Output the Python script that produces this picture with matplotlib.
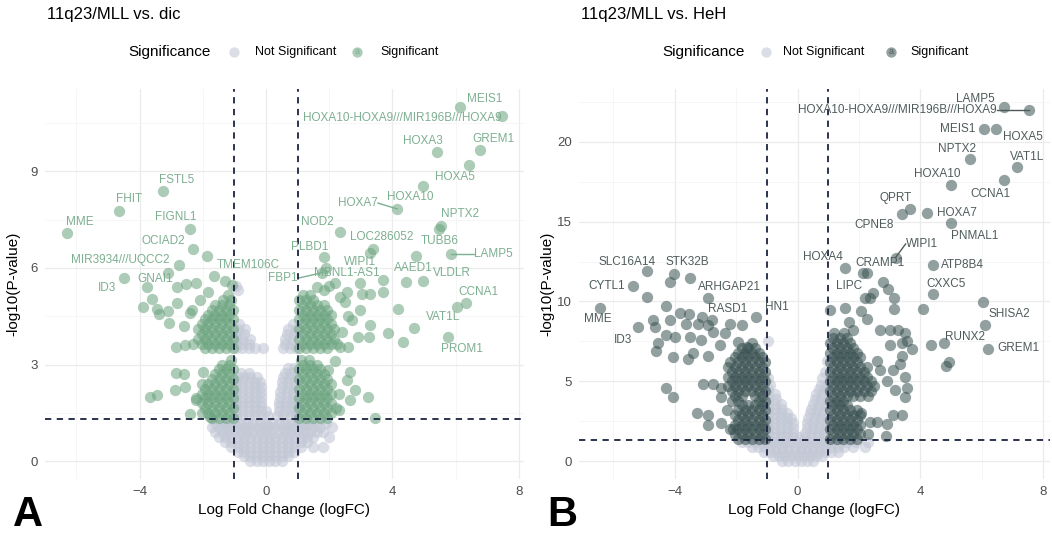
import matplotlib.pyplot as plt

plt.rcParams['font.family'] = ['Liberation Sans', 'DejaVu Sans']

W, H = 1052, 534

# ---------------- panel A : 11q23/MLL vs. dic ----------------
# not significant cloud: (-log10 p, [logFC values]) rows
a_ns_rows = [
    (0.0, [-0.5, -0.3, -0.1, 0.1, 0.3, 0.5]),
    (0.15, [-0.7, -0.5, -0.3, -0.1, 0.1, 0.3, 0.5, 0.7]),
    (0.3, [-0.9, -0.7, -0.5, -0.3, -0.1, 0.1, 0.3, 0.5, 0.7, 0.9]),
    (0.45, [-1.1, -0.9, -0.7, -0.5, -0.3, -0.1, 0.1, 0.3, 0.5, 0.7, 0.9, 1.1, 1.5, 1.8]),
    (0.6, [-1.3, -1.1, -0.9, -0.7, -0.5, -0.3, -0.1, 0.1, 0.3, 0.5, 0.7, 0.9, 1.1, 1.3]),
    (0.75, [-1.5, -1.3, -1.1, -0.9, -0.7, -0.5, -0.3, -0.1, 0.1, 0.3, 0.5, 0.7, 0.9, 1.1,
            1.3, 1.5, 2.0]),
    (0.9, [-1.6, -1.4, -1.2, -1.0, -0.8, -0.6, -0.4, -0.2, 0.0, 0.2, 0.4, 0.6, 0.8, 1.0,
           1.2, 1.4, 1.6, 1.8]),
    (1.05, [-1.7, -1.5, -1.3, -1.1, -0.9, -0.7, -0.5, -0.3, -0.1, 0.1, 0.3, 0.5, 0.7, 0.9,
            1.1, 1.3, 1.5, 1.7, 2.1]),
    (1.2, [-1.6, -1.4, -1.2, -1.0, -0.8, -0.6, -0.4, -0.2, 0.0, 0.2, 0.4, 0.6, 0.8, 1.0,
           1.2, 1.4, 1.6, 1.9]),
    (1.4, [-0.95, -0.75, -0.55, -0.35, -0.15, 0.05, 0.35, 0.55, 0.75, 0.95]),
    (1.55, [-0.95, -0.75, -0.55, -0.35, -0.15, 0.0, 0.4, 0.6, 0.8, 0.95]),
    (1.7, [-0.95, -0.75, -0.55, -0.35, -0.15, 0.4, 0.6, 0.8, 0.95]),
    (1.85, [-0.95, -0.75, -0.55, -0.35, -0.15, 0.42, 0.62, 0.82, 0.95]),
    (2.0, [-0.95, -0.75, -0.55, -0.35, -0.15, 0.45, 0.65, 0.85]),
    (2.15, [-0.95, -0.75, -0.55, -0.35, -0.15, 0.45, 0.65, 0.85]),
    (2.3, [-0.95, -0.75, -0.55, -0.35, -0.15, 0.5, 0.7, 0.9]),
    (2.45, [-0.95, -0.75, -0.55, -0.35, -0.2, 0.5, 0.7, 0.9]),
    (2.6, [-0.9, -0.7, -0.5, -0.3, 0.55, 0.75, 0.95]),
    (2.75, [-0.8, -0.55, 0.6, 0.8]),
    (2.9, [0.7, 0.9]),
    (3.5, [-0.95, -0.75, -0.55, -0.35, -0.1, 0.55, 0.75, 0.95]),
    (3.65, [-0.95, -0.75, -0.55, 0.6, 0.8]),
    (3.8, [-0.95, -0.75, -0.5, 0.6, 0.85]),
    (3.95, [-0.95, -0.7, 0.65, 0.9]),
    (4.1, [-0.9, -0.65, 0.7, 0.95]),
    (4.25, [-0.85, 0.85]),
    (5.3, [-0.9]),
    (5.45, [-0.95]),
]
# significant, dense blocks either side of |logFC| = 1
a_sig_rows = [
    (1.35, [-1.05, -1.27, -1.49, -1.71, 1.05, 1.27, 1.49, 1.71, 1.93]),
    (1.5, [-1.16, -1.38, -1.6, -1.82, -2.04, 1.16, 1.38, 1.6, 1.82, 2.04]),
    (1.65, [-1.05, -1.27, -1.49, -1.71, -1.93, 1.05, 1.27, 1.49, 1.71, 1.93, 2.2]),
    (1.8, [-1.16, -1.38, -1.6, -1.82, -2.04, 1.16, 1.38, 1.6, 1.82, 2.04]),
    (1.95, [-1.05, -1.27, -1.49, -1.71, -1.93, -2.2, 1.05, 1.27, 1.49, 1.71, 1.93]),
    (2.1, [-1.16, -1.38, -1.6, -1.82, -2.04, 1.16, 1.38, 1.6, 1.82, 2.04, 2.3]),
    (2.25, [-1.05, -1.27, -1.49, -1.71, -1.93, 1.05, 1.27, 1.49, 1.71, 1.93]),
    (2.4, [-1.16, -1.38, -1.6, -1.82, -2.04, 1.16, 1.38, 1.6, 1.82, 2.04]),
    (2.55, [-1.05, -1.27, -1.49, -1.71, 1.05, 1.27, 1.49, 1.71, 1.93]),
    (2.7, [-1.16, -1.38, -1.6, 1.16, 1.38, 1.6, 1.82]),
    (2.85, [-1.05, -1.27, -1.49, 1.05, 1.27, 1.49, 1.71]),
    (3.0, [-1.16, -1.38, 1.16, 1.38, 1.6]),
    (3.15, [-1.1, 1.1, 1.35]),
    (3.5, [-1.05, -1.27, -1.49, -1.71, -1.93, 1.05, 1.27, 1.49, 1.71, 1.93]),
    (3.65, [-1.16, -1.38, -1.6, -1.82, -2.04, -2.3, 1.16, 1.38, 1.6, 1.82, 2.04, 2.26]),
    (3.8, [-1.05, -1.27, -1.49, -1.71, -1.93, -2.15, 1.05, 1.27, 1.49, 1.71, 1.93, 2.15]),
    (3.95, [-1.16, -1.38, -1.6, -1.82, -2.04, 1.16, 1.38, 1.6, 1.82, 2.04]),
    (4.1, [-1.05, -1.27, -1.49, -1.71, -1.93, -2.15, 1.05, 1.27, 1.49, 1.71, 1.93, 2.15]),
    (4.25, [-1.16, -1.38, -1.6, -1.82, -2.04, 1.16, 1.38, 1.6, 1.82, 2.04]),
    (4.4, [-1.05, -1.27, -1.49, -1.71, -1.93, 1.05, 1.27, 1.49, 1.71, 1.93]),
    (4.55, [-1.16, -1.38, -1.6, -1.82, 1.16, 1.38, 1.6, 1.82, 2.04]),
    (4.7, [-1.05, -1.27, -1.49, -1.71, 1.05, 1.27, 1.49, 1.71, 1.93]),
    (4.85, [-1.16, -1.38, -1.6, 1.16, 1.38, 1.6, 1.82]),
    (5.0, [-1.1, -1.35, 1.05, 1.27, 1.49]),
    (5.15, [-1.2, 1.16, 1.38]),
]
# significant, scattered (unlabelled)
a_sig_x = [-3.9, -3.45, -3.4, -3.1, -3.07, -3.6, -3.77, -2.82, -2.53, -2.22, -1.87, -1.3,
           -1.08, -2.82, -2.35, -1.83, -2.85, -2.56, -3.67, -3.45, -2.85, -2.6, -2.0, -2.4,
           -2.88, -2.56, -1.77, -2.2, -2.4, -2.6, -2.1,
           3.7, 3.29, 2.97, 3.04, 2.97, 2.72, 3.29, 2.91, 2.6, 2.34, 2.18, 2.56, 2.34, 2.5,
           4.18, 4.68, 4.34, 3.86, 3.7, 3.27, 4.43, 2.4, 2.6, 1.85, 2.0, 1.6,
           2.18, 2.66, 2.82, 3.23, 2.66, 3.45, 1.96, 2.56, 2.3]
a_sig_y = [4.78, 4.72, 4.56, 4.66, 4.3, 5.05, 5.4, 5.4, 5.5, 5.53, 6.37, 5.6,
           5.47, 4.9, 4.7, 5.25, 3.54, 3.6, 2.0, 2.05, 2.73, 2.7, 2.76, 1.46,
           2.2, 2.3, 1.37, 1.9, 4.6, 4.2, 5.0,
           5.62, 5.2, 5.53, 5.2, 4.69, 4.38, 4.22, 3.85, 3.54, 3.54, 5.53, 5.25, 5.1, 4.94,
           4.72, 4.13, 3.7, 3.97, 5.25, 3.85, 5.56, 4.0, 4.5, 5.3, 5.45, 5.4,
           3.1, 2.76, 2.2, 2.0, 1.9, 1.33, 2.83, 2.52, 1.6]
# labelled genes: point, label position
a_genes = ['MME', 'FHIT', 'FSTL5', 'FIGNL1', 'OCIAD2', 'MIR3934///UQCC2', 'GNAI1', 'ID3',
           'TMEM106C', 'MEIS1', 'HOXA10-HOXA9///MIR196B///HOXA9', 'HOXA3', 'GREM1', 'HOXA5',
           'HOXA10', 'HOXA7', 'NPTX2', 'TUBB6', 'LAMP5', 'NOD2', 'LOC286052', 'WIPI1',
           'PLBD1', 'AAED1', 'VLDLR', 'MBNL1-AS1', 'FBP1', 'CCNA1', 'VAT1L', 'PROM1']
a_gx = [-6.3, -4.65, -3.26, -2.4, -2.3, -2.75, -3.1, -4.5, -1.65, 6.14, 7.47, 5.41, 6.77,
        6.42, 4.97, 4.15, 5.55, 5.47, 5.85, 2.34, 3.38, 3.3, 1.84, 4.75, 4.97, 1.9, 1.77,
        6.33, 6.04, 5.76]
a_gy = [7.08, 7.76, 8.38, 7.2, 6.6, 6.1, 5.85, 5.7, 5.75, 11.0, 10.7, 9.6, 9.66, 9.19, 8.54,
        7.83, 7.3, 7.2, 6.43, 7.1, 6.6, 6.45, 6.33, 6.37, 5.6, 6.0, 5.85, 4.9, 4.8, 3.85]
a_lx = [-5.89, -4.34, -2.82, -2.85, -3.26, -4.62, -3.5, -5.03, -0.57, 6.93, 4.3, 4.97, 7.18,
        5.98, 4.56, 2.91, 6.14, 5.5, 7.18, 1.61, 3.67, 2.97, 1.39, 4.65, 5.89, 2.56, 0.54,
        6.71, 5.6, 6.2]
a_ly = [7.42, 8.14, 8.73, 7.58, 6.83, 6.24, 5.65, 5.37, 6.08, 11.24, 10.65, 9.94, 10.0, 8.82,
        8.2, 8.01, 7.67, 6.83, 6.43, 7.42, 6.96, 6.18, 6.65, 6.0, 5.84, 5.84, 5.68, 5.25, 4.47,
        3.48]
a_lines = ['HOXA7', 'LAMP5', 'FBP1']

# ---------------- panel B : 11q23/MLL vs. HeH ----------------
b_ns_rows = [
    (0.0, [-0.5, -0.3, -0.1, 0.1, 0.3, 0.5]),
    (0.3, [-0.8, -0.6, -0.4, -0.2, 0.0, 0.2, 0.4, 0.6, 0.8]),
    (0.6, [-1.1, -0.9, -0.7, -0.5, -0.3, -0.1, 0.1, 0.3, 0.5, 0.7, 0.9, 1.1, 1.3]),
    (0.9, [-1.5, -1.3, -1.1, -0.9, -0.7, -0.5, -0.3, -0.1, 0.1, 0.3, 0.5, 0.7, 0.9, 1.1,
           1.3, 1.5, 1.8, 2.2]),
    (1.2, [-1.8, -1.6, -1.4, -1.2, -1.0, -0.8, -0.6, -0.4, -0.2, 0.0, 0.2, 0.4, 0.6, 0.8,
           1.0, 1.2, 1.4, 1.6, 1.9, 2.3]),
    (1.5, [-0.95, -0.75, -0.55, -0.35, -0.15, 0.05, 0.25, 0.45, 0.65, 0.85]),
    (1.8, [-0.95, -0.75, -0.55, -0.35, -0.15, 0.25, 0.45, 0.65, 0.85]),
    (2.1, [-0.95, -0.75, -0.55, -0.35, -0.15, 0.3, 0.5, 0.7, 0.9]),
    (2.4, [-0.95, -0.75, -0.55, -0.35, -0.15, 0.3, 0.5, 0.7, 0.9]),
    (2.7, [-0.95, -0.75, -0.55, -0.35, -0.2, 0.35, 0.55, 0.75, 0.95]),
    (3.0, [-0.95, -0.75, -0.55, -0.35, 0.4, 0.6, 0.8]),
    (3.3, [-0.95, -0.75, -0.5, 0.45, 0.65, 0.85]),
    (3.6, [-0.95, -0.75, -0.55, 0.5, 0.7, 0.9]),
    (3.9, [-0.95, -0.7, 0.55, 0.75, 0.95]),
    (4.2, [-0.95, -0.75, 0.6, 0.8]),
    (4.5, [-0.95, 0.7, 0.9]),
    (4.8, [-0.9, 0.75, 0.95]),
    (5.2, [-0.95, 0.8]),
    (5.6, [0.9]),
    (6.3, [0.95]),
    (7.5, [-0.98]),
]
b_sig_rows = [
    (1.4, [-1.05, -1.27, -1.49, -1.71, -1.93, 1.05, 1.27, 1.49, 1.71, 1.93]),
    (1.7, [-1.16, -1.38, -1.6, -1.82, -2.04, 1.16, 1.38, 1.6, 1.82, 2.04, 2.3]),
    (2.0, [-1.05, -1.27, -1.49, -1.71, -1.93, -2.2, 1.05, 1.27, 1.49, 1.71, 1.93]),
    (2.3, [-1.16, -1.38, -1.6, -1.82, -2.04, 1.16, 1.38, 1.6, 1.82, 2.04]),
    (2.6, [-1.05, -1.27, -1.49, -1.71, -1.93, 1.05, 1.27, 1.49, 1.71, 1.93]),
    (2.9, [-1.16, -1.38, -1.6, -1.82, -2.04, 1.16, 1.38, 1.6, 1.82, 2.04]),
    (3.2, [-1.05, -1.27, -1.49, -1.71, -1.93, 1.05, 1.27, 1.49, 1.71, 1.93]),
    (3.5, [-1.16, -1.38, -1.6, -1.82, 1.16, 1.38, 1.6]),
    (3.8, [-1.05, -1.27, -1.93, -2.15, 1.05, 1.27, 1.49]),
    (4.1, [-1.16, -1.38, -1.82, -2.04, 1.16, 1.38, 1.6, 1.82, 2.04, 2.3]),
    (4.4, [-1.05, -1.27, -1.49, -1.71, -1.93, -2.15, 1.05, 1.27, 1.49, 1.71, 1.93, 2.15, 2.4]),
    (4.7, [-1.16, -1.38, -1.6, -1.82, -2.04, -2.26, 1.16, 1.38, 1.6, 1.82, 2.04, 2.26, 2.5]),
    (5.0, [-1.05, -1.27, -1.49, -1.71, -1.93, -2.15, 1.05, 1.27, 1.49, 1.71, 1.93, 2.15, 2.4]),
    (5.3, [-1.16, -1.38, -1.6, -1.82, -2.04, -2.26, 1.16, 1.38, 1.6, 1.82, 2.04, 2.26]),
    (5.6, [-1.05, -1.27, -1.49, -1.71, -1.93, -2.15, 1.05, 1.27, 1.49, 1.71, 1.93, 2.15]),
    (5.9, [-1.16, -1.38, -1.6, -1.82, -2.04, -2.26, 1.16, 1.38, 1.6, 1.82, 2.04, 2.26]),
    (6.2, [-1.05, -1.27, -1.49, -1.71, -1.93, -2.2, 1.05, 1.27, 1.49, 1.71, 1.93]),
    (6.5, [-1.16, -1.38, -1.6, -1.82, -2.04, 1.16, 1.38, 1.6, 1.82, 2.04]),
    (6.8, [-1.27, -1.49, -1.71, -1.93, 1.05, 1.27, 1.49, 1.71, 1.93]),
    (7.1, [-1.38, -1.6, -1.82, 1.16, 1.38, 1.6, 1.82]),
    (7.4, [-1.5, 1.05, 1.27, 1.49, 1.71]),
    (7.7, [1.16, 1.38, 1.6]),
    (8.0, [1.2, 1.5]),
]
b_sig_x = [-4.14, -3.52, -4.92, -4.3, -3.84, -4.72, -4.14, -3.55, -3.13, -4.66, -3.62, -3.26,
           -2.8, -2.93, -2.21, -2.77, -2.38, -4.3, -4.0, -3.49, -3.16, -4.56, -4.6, -2.54,
           -1.95, -1.66, -4.07, -3.58, -3.42, -2.93, -4.3, -4.07, -3.29, -2.93, -2.93, -3.09,
           -2.77, -2.48, -2.48, -2.48, -2.3, -2.1,
           1.53, 2.05, 1.04, 1.66, 2.25, 3.13, 3.13, 2.93, 2.77, 2.35, 2.18, 1.79, 2.67, 3.0,
           3.26, 3.49, 3.55, 3.71, 3.39, 3.0, 3.39, 3.32, 3.1, 3.49, 3.55, 3.49, 3.16, 2.9,
           2.6, 2.67, 3.39, 3.1, 2.9, 2.6, 2.87, 2.35, 2.08,
           6.1, 4.36, 4.92, 4.82, 4.1, 2.12]
b_sig_y = [11.25, 11.5, 10.3, 9.7, 9.3, 8.85, 8.85, 9.2, 9.05, 8.4, 8.6, 8.6,
           8.85, 8.55, 8.6, 8.1, 8.05, 7.9, 7.75, 7.8, 7.6, 7.4, 6.9, 7.25,
           7.45, 7.15, 6.5, 6.4, 6.75, 6.6, 4.6, 4.0, 3.05, 2.9, 2.25, 4.85,
           4.85, 4.6, 4.0, 2.4, 3.2, 2.05,
           9.6, 9.4, 9.45, 8.7, 8.9, 9.5, 10.2, 10.8, 11.25, 10.25, 10.25, 8.2, 8.2, 8.2,
           8.2, 8.05, 7.55, 7.05, 7.4, 7.25, 6.6, 6.1, 5.7, 5.25, 4.6, 4.0, 4.45, 5.05,
           6.3, 5.7, 2.9, 2.9, 2.35, 2.45, 1.6, 2.45, 3.05,
           8.5, 7.25, 6.2, 5.95, 9.5, 11.8]
b_genes = ['SLC16A14', 'STK32B', 'CYTL1', 'MME', 'ID3', 'ARHGAP21', 'RASD1', 'HN1', 'HOXA4',
           'CRAMP1', 'LIPC', 'WIPI1', 'ATP8B4', 'CXXC5', 'CPNE8', 'QPRT', 'HOXA7', 'PNMAL1',
           'HOXA10', 'NPTX2', 'CCNA1', 'VAT1L', 'MEIS1', 'HOXA5', 'LAMP5',
           'HOXA10-HOXA9///MIR196B///HOXA9', 'SHISA2', 'RUNX2', 'GREM1']
b_gx = [-4.89, -4.04, -5.37, -6.42, -5.21, -2.93, -1.82, -1.34, 1.53, 2.25, 2.44, 3.19, 4.4,
        4.4, 3.39, 3.65, 4.2, 5.0, 4.98, 5.6, 6.71, 7.13, 6.06, 6.45, 6.71, 7.52, 6.03, 4.76,
        6.19]
b_gy = [11.9, 11.75, 10.95, 9.6, 8.4, 10.2, 8.55, 9.05, 12.1, 11.8, 10.55, 12.75, 12.3, 10.45,
        15.5, 15.8, 15.55, 14.9, 17.3, 18.9, 17.6, 18.4, 20.8, 20.8, 22.2, 22.0, 9.95, 7.4,
        7.05]
b_lx = [-5.54, -3.58, -6.22, -6.51, -5.7, -2.21, -2.28, -0.68, 0.81, 2.67, 1.69, 4.04, 5.37,
        4.85, 2.48, 3.19, 5.18, 5.77, 4.56, 5.18, 6.29, 7.46, 5.21, 7.33, 5.8, 3.26, 6.9, 5.44,
        7.2]
b_ly = [12.5, 12.5, 10.94, 8.88, 7.6, 10.9, 9.56, 9.63, 12.8, 12.4, 11.0, 13.6, 12.3, 11.1,
        14.8, 16.5, 15.56, 14.1, 18.0, 19.56, 16.75, 19.06, 20.8, 20.3, 22.7, 22.0, 9.2, 7.75,
        7.06]
b_lines = ['WIPI1', 'HOXA10-HOXA9///MIR196B///HOXA9']

NS_COL = '#C3C8D6'
A_COL, A_TXT = '#6AA37E', '#7DAF91'
B_COL, B_TXT = '#3A5252', '#4F5B5B'
DASH = '#1B2340'
SIZE = 66


def unrow(rows):
    xs = [x for y, r in rows for x in r]
    ys = [y for y, r in rows for x in r]
    return xs, ys


def volcano(ax, ns_rows, sig_rows, sx, sy, genes, gx, gy, lx, ly, lines, col, txt,
            xlim, ylim, yticks, yminor):
    nx, ny = unrow(ns_rows)
    ax.scatter(nx, ny, s=SIZE, color=NS_COL, alpha=0.6, lw=0, zorder=2)
    dx, dy = unrow(sig_rows)
    ax.scatter(dx, dy, s=SIZE, color=col, alpha=0.55, lw=0, zorder=3)
    ax.scatter(sx, sy, s=SIZE, color=col, alpha=0.55, lw=0, zorder=3)
    ax.scatter(gx, gy, s=SIZE, color=col, alpha=0.55, lw=0, zorder=3)
    for g, px, py, tx, ty in zip(genes, gx, gy, lx, ly):
        t = ax.text(tx, ty, g, fontsize=8.5, color=txt, ha='center', va='center', zorder=5)
        if g in lines:
            fig.canvas.draw()
            bb = t.get_window_extent().transformed(ax.transData.inverted())
            ex = bb.x1 if px > tx else bb.x0
            ax.plot([ex, px], [ty, py], color=txt, lw=1, zorder=4)
    ax.axvline(-1, color=DASH, lw=1.3, ls=(0, (3.5, 3)), zorder=4)
    ax.axvline(1, color=DASH, lw=1.3, ls=(0, (3.5, 3)), zorder=4)
    ax.axhline(1.30103, color=DASH, lw=1.3, ls=(0, (3.5, 3)), zorder=4)
    ax.set_xlim(*xlim)
    ax.set_ylim(*ylim)
    ax.set_xticks([-4, 0, 4, 8])
    ax.set_xticks([-6, -2, 2, 6], minor=True)
    ax.set_yticks(yticks)
    ax.set_yticks(yminor, minor=True)
    ax.grid(which='major', color='#EBEBEB', lw=0.9, zorder=0)
    ax.grid(which='minor', color='#F3F3F3', lw=0.5, zorder=0)
    ax.set_axisbelow(True)
    for s in ax.spines.values():
        s.set_visible(False)
    ax.tick_params(which='both', length=0, labelsize=9.5, labelcolor='#4D4D4D', pad=5)
    ax.set_xlabel('Log Fold Change (logFC)', fontsize=11)
    ax.set_ylabel('-log10(P-value)', fontsize=11)
    ax.xaxis.set_label_coords(0.5, -(510 - 479) / 390)
    ax.xaxis.label.set_va('center')
    ax.yaxis.set_label_coords(-32 / 479, 0.5)
    ax.yaxis.label.set_va('center')


fig = plt.figure(figsize=(W / 100, H / 100), dpi=100)
axA = fig.add_axes([45 / W, 1 - 479 / H, 479 / W, 390 / H])
axB = fig.add_axes([579 / W, 1 - 479 / H, 471 / W, 390 / H])

volcano(axA, a_ns_rows, a_sig_rows, a_sig_x, a_sig_y, a_genes, a_gx, a_gy, a_lx, a_ly,
        a_lines, A_COL, A_TXT, (-6.99, 8.16), (-0.55, 11.55), [0, 3, 6, 9], [1.5, 4.5, 7.5, 10.5])
volcano(axB, b_ns_rows, b_sig_rows, b_sig_x, b_sig_y, b_genes, b_gx, b_gy, b_lx, b_ly,
        b_lines, B_COL, B_TXT, (-7.12, 8.22), (-1.11, 23.3), [0, 5, 10, 15, 20],
        [2.5, 7.5, 12.5, 17.5, 22.5])

# titles, legends and panel letters in pixel space
over = fig.add_axes([0, 0, 1, 1], facecolor='none')
over.set_xlim(0, W)
over.set_ylim(H, 0)
over.axis('off')
for x0, title, col, txt, letter, (c1, t1, c2, t2) in [
        (47, '11q23/MLL vs. dic', A_COL, A_TXT, 'A', (234, 255, 357, 380)),
        (581, '11q23/MLL vs. HeH', B_COL, B_TXT, 'B', (766, 783, 891, 910))]:
    over.text(x0, 15, title, fontsize=12, ha='left', va='center')
    over.text(x0 + 81, 52, 'Significance', fontsize=11, ha='left', va='center')
    over.scatter([c1], [52], s=55, color=NS_COL, alpha=0.6, lw=0)
    over.text(t1, 52, 'Not Significant', fontsize=9, ha='left', va='center')
    over.scatter([c2], [52], s=55, color=col, alpha=0.55, lw=0)
    over.text(c2, 52, 'a', fontsize=6.5, color=txt, ha='center', va='center')
    over.text(t2, 52, 'Significant', fontsize=9, ha='left', va='center')
    over.text(x0 - 19, 515, letter, fontsize=30, fontweight='bold', ha='center', va='center')

fig.savefig('out.png', dpi=100)
